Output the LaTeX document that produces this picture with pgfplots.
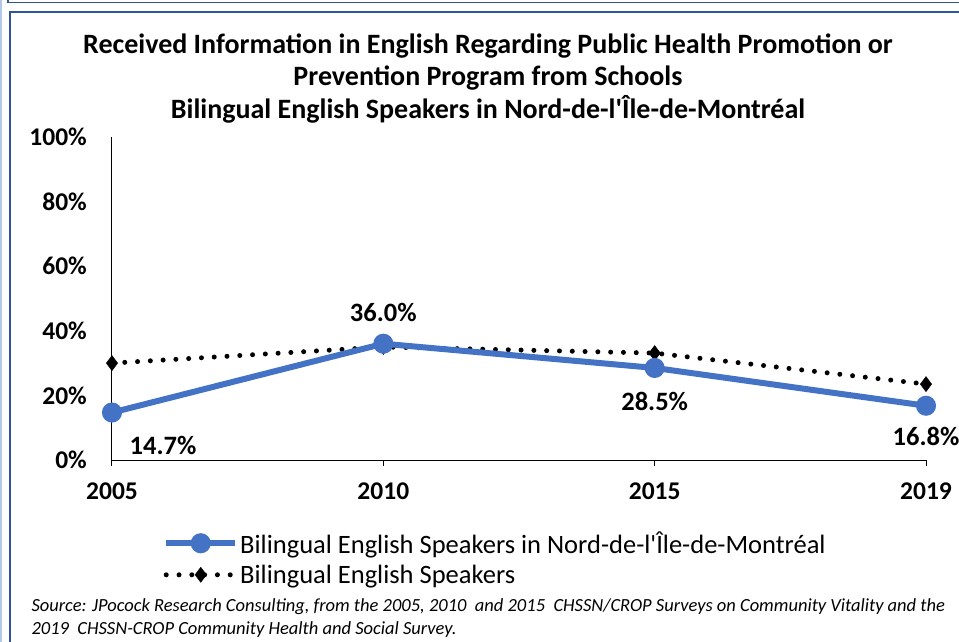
\documentclass[border=0pt]{standalone}
\usepackage{pgfplots}
\pgfplotsset{compat=1.18}
\usepackage{fontspec}
\setmainfont{Carlito}
\definecolor{blueS}{RGB}{68,114,196}
\definecolor{frameB}{RGB}{47,85,151}
\definecolor{lightB}{RGB}{180,199,231}
\begin{document}
\begin{tikzpicture}[x=1pt,y=1pt]
\clip (0,0) rectangle (959,-642);
\fill[white] (0,0) rectangle (959,-642);
\draw[lightB, line width=2pt] (1,0) -- (1,-642);
\draw[frameB, line width=1.5pt] (8,0)--(8,-2.5)--(962,-2.5);
\draw[frameB, line width=1.5pt] (10,-700) -- (10,-12) -- (962,-12);
\node[font=\fontsize{28}{32.5}\selectfont\bfseries, align=center] at (488,-78.5) {Received Information in English Regarding Public Health Promotion or\\Prevention Program from Schools\\Bilingual English Speakers in Nord-de-l\textquotesingle Île-de-Montréal};
\begin{axis}[at={(112pt,-460pt)}, anchor=south west, scale only axis,
  width=814pt, height=323pt,
  xmin=0, xmax=3, ymin=0, ymax=100, clip=false,
  axis lines=left, axis line style={-, black, line width=1pt},
  xtick={0,1,2,3}, xticklabels={2005,2010,2015,2019},
  ytick={0,20,40,60,80,100}, yticklabels={0\%,20\%,40\%,60\%,80\%,100\%},
  tick align=outside, major tick length=6pt,
  ytick style={draw=none}, xtick style={black, line width=1pt},
  ticklabel style={font=\fontsize{25.5}{30}\selectfont\bfseries},
  yticklabel style={inner sep=0pt, xshift=-19pt},
  xticklabel style={inner sep=0pt, yshift=-17pt},
  legend style={draw=none, fill=none, at={(rel axis cs:0.0627,-0.215)}, anchor=north west,
    font=\fontsize{26.5}{30}\selectfont, row sep=6pt, inner sep=0pt},
  legend cell align=left, reverse legend,
  legend image code/.code={\draw[#1, mark repeat=2, mark phase=2] plot coordinates {(0pt,0pt)(34.5pt,0pt)(69pt,0pt)};},
]
\addplot[black, line width=5pt, line cap=round, dash pattern=on 0pt off 12.8pt, mark=diamond*, mark size=7.5pt, mark options={solid, line width=0.5pt}] coordinates {(0,30.0)(1,35.0)(2,33.1)(3,23.5)};
\addlegendentry{Bilingual English Speakers}
\addplot[blueS, line width=6pt, mark=*, mark size=7pt, mark options={solid}] coordinates {(0,14.7)(1,36.0)(2,28.5)(3,16.8)};
\addlegendentry{Bilingual English Speakers in Nord-de-l\textquotesingle Île-de-Montréal}
\node[font=\fontsize{26.5}{30}\selectfont\bfseries, xshift=51pt, yshift=-33pt] at (axis cs:0,14.7) {14.7\%};
\node[font=\fontsize{26.5}{30}\selectfont\bfseries, yshift=31pt] at (axis cs:1,36.0) {36.0\%};
\node[font=\fontsize{26.5}{30}\selectfont\bfseries, yshift=-34pt] at (axis cs:2,28.5) {28.5\%};
\node[font=\fontsize{26.5}{30}\selectfont\bfseries, yshift=-31pt] at (axis cs:3,16.8) {16.8\%};
\end{axis}
\node[anchor=west, font=\fontsize{18.5}{23}\selectfont\itshape, align=left] at (28,-618.5) {Source: JPocock Research Consulting, from the 2005, 2010\ \ and 2015\ \ CHSSN/CROP Surveys on Community Vitality and the\\2019\ \ CHSSN-CROP Community Health and Social Survey.};
\end{tikzpicture}
\end{document}
